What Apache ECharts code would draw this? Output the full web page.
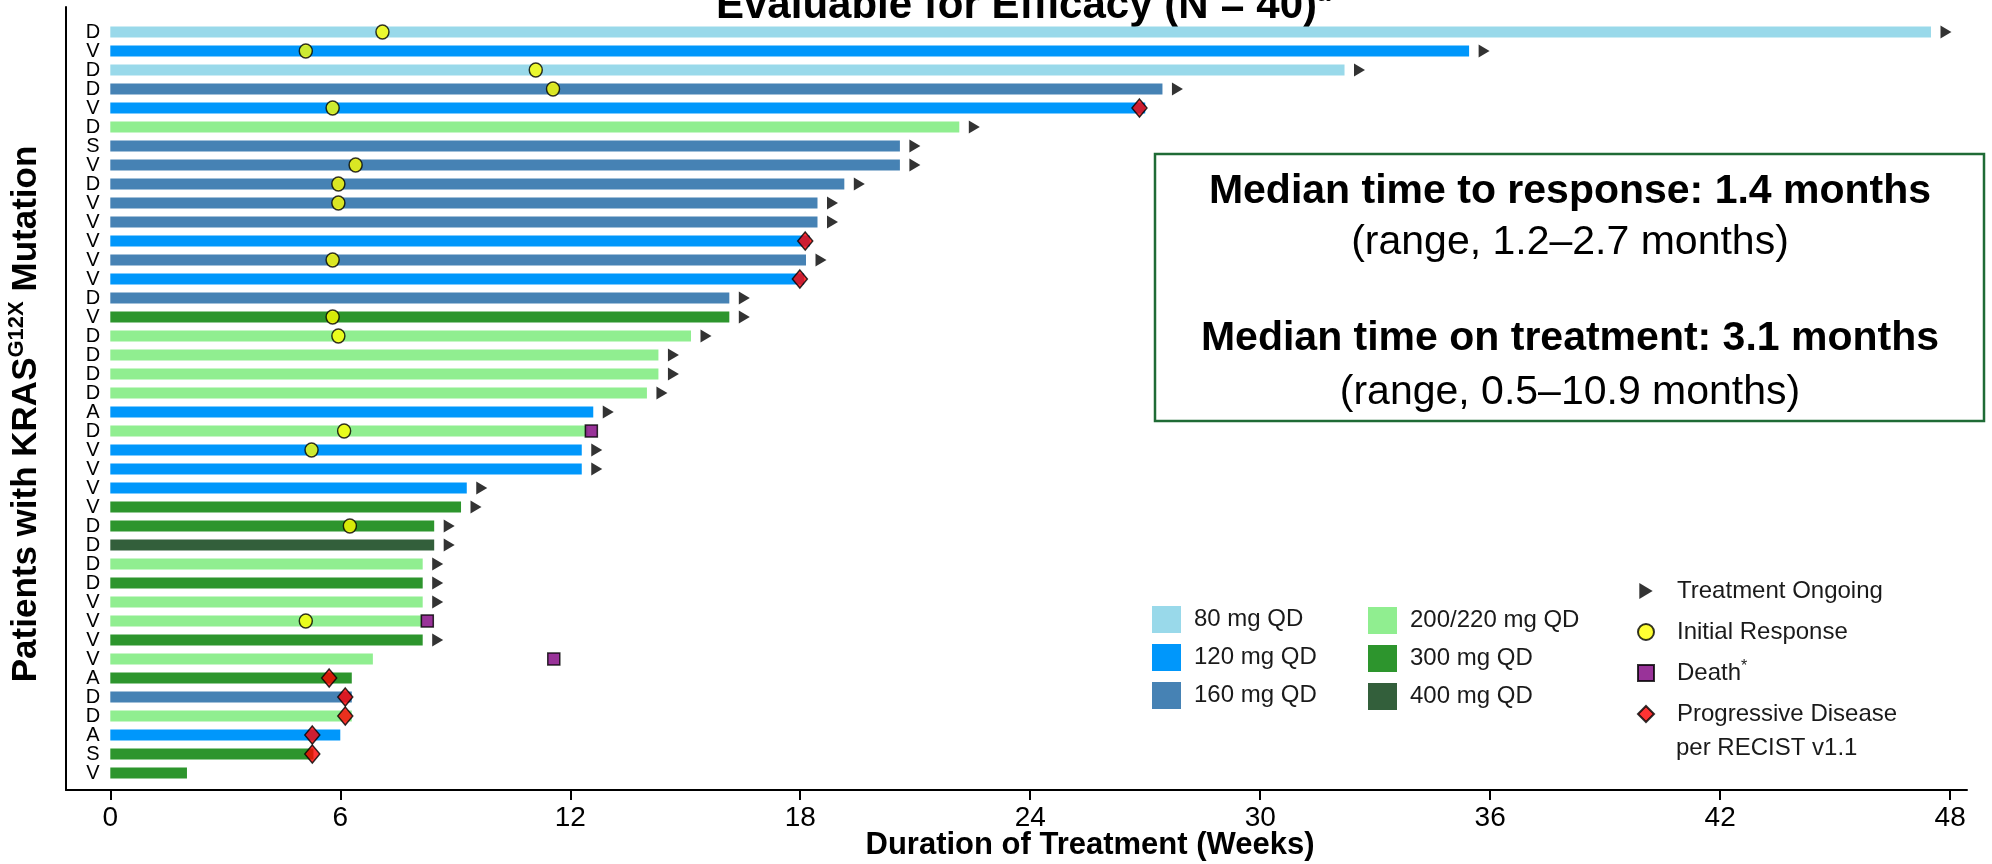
<!DOCTYPE html>
<html>
<head>
<meta charset="utf-8">
<style>
    html, body { margin: 0; padding: 0; background: #fff; }
    #main { width: 1992px; height: 864px; }
</style>
<script src="https://cdn.jsdelivr.net/npm/echarts@6/dist/echarts.min.js"></script>
</head>
<body>
<div id="main"></div>
<script>
// one entry per patient, top row first
let mutations = ['D', 'V', 'D', 'D', 'V', 'D', 'S', 'V', 'D', 'V', 'V', 'V', 'V', 'V', 'D', 'V', 'D', 'D', 'D', 'D',
    'A', 'D', 'V', 'V', 'V', 'V', 'D', 'D', 'D', 'D', 'V', 'V', 'V', 'V', 'A', 'D', 'D', 'A', 'S', 'V']
let doses = ['80', '120', '80', '160', '120', '200/220', '160', '160', '160', '160', '160', '120', '160', '120', '160', '300',
    '200/220', '200/220', '200/220', '200/220', '120', '200/220', '120', '120', '120', '300', '300', '400', '200/220', '300',
    '200/220', '200/220', '300', '200/220', '300', '160', '200/220', '120', '300', '300']
let weeks = [47.5, 35.45, 32.2, 27.45, 27.0, 22.15, 20.6, 20.6, 19.15, 18.45, 18.45, 18.25, 18.15, 18.1, 16.15, 16.15,
    15.15, 14.3, 14.3, 14.0, 12.6, 12.45, 12.3, 12.3, 9.3, 9.15, 8.45, 8.45, 8.15, 8.15,
    8.15, 8.15, 8.15, 6.85, 6.3, 6.3, 6.3, 6.0, 5.3, 2.0]
let ongoing = [1, 1, 1, 1, 0, 1, 1, 1, 1, 1, 1, 0, 1, 0, 1, 1, 1, 1, 1, 1,
    1, 0, 1, 1, 1, 1, 1, 1, 1, 1, 1, 0, 1, 0, 0, 0, 0, 0, 0, 0]

// [row, week]
let responses = [[0, 7.1], [1, 5.1], [2, 11.1], [3, 11.55], [4, 5.8], [7, 6.4], [8, 5.95], [9, 5.95], [12, 5.8],
    [15, 5.8], [16, 5.95], [21, 6.1], [22, 5.25], [26, 6.25], [31, 5.1]]
let deaths = [[21, 12.55], [31, 8.27], [33, 11.57]]
let progressions = [[4, 26.85], [11, 18.13], [13, 17.99], [34, 5.71], [35, 6.13], [36, 6.13], [37, 5.27], [38, 5.27]]

let doseLevels = ['80', '120', '160', '200/220', '300', '400']
let doseColors = ['#99d9ea', '#0097fb', '#4682b4', '#90ee90', '#2d952d', '#335f3b']
let weekTicks = [0, 6, 12, 18, 24, 30, 36, 42, 48]

let font = '"Liberation Sans", Arial, sans-serif'
let myChart = echarts.init(document.getElementById('main'))

let barSeries = doseLevels.map(function (level, k) {
    let data = []
    for (let i = 0; i < doses.length; i++) {
        if (doses[i] === level) {
            data.push([weeks[i], i])
        }
    }
    return {
        name: level + ' mg QD',
        type: 'custom',
        itemStyle: {color: doseColors[k]},
        encode: {x: 0, y: 1},
        renderItem: function (params, api) {
            let start = api.coord([0, api.value(1)])
            let end = api.coord([api.value(0), api.value(1)])
            return {
                type: 'rect',
                shape: {x: start[0], y: start[1] - 5.5, width: end[0] - start[0], height: 11},
                style: {fill: doseColors[k]}
            }
        },
        data: data,
        z: 1
    }
})

let ongoingData = []
for (let i = 0; i < weeks.length; i++) {
    if (ongoing[i]) {
        ongoingData.push([weeks[i], i])
    }
}
let swap = function (p) {
    return [p[1], p[0]]
}
let markerBorder = {borderColor: '#000', borderWidth: 1.5}

// row letters go on two stacked axes (even / odd rows) so none get dropped as overlapping
let rowAxis = function (parity, showLine) {
    let rows = []
    for (let i = parity; i < mutations.length; i += 2) {
        rows.push(i)
    }
    return {
        type: 'value',
        position: 'left',
        offset: 0,
        inverse: true,
        min: -1.316,
        max: 39.895,
        axisLine: {show: showLine, onZero: false, lineStyle: {color: '#000', width: 2}},
        axisTick: {show: false},
        splitLine: {show: false},
        axisLabel: {
            inside: true,
            align: 'center',
            margin: 27,
            showMinLabel: true,
            showMaxLabel: true,
            customValues: rows,
            formatter: function (v) {
                return mutations[v]
            },
            fontFamily: font,
            fontSize: 20,
            color: '#000'
        }
    }
}

let legendText = {
    fontFamily: font,
    fontSize: 24,
    color: '#1a1a1a',
    rich: {
        n: {fontFamily: font, fontSize: 24, color: '#1a1a1a', lineHeight: 28},
        s: {fontFamily: font, fontSize: 16, color: '#1a1a1a', lineHeight: 16, verticalAlign: 'top'}
    }
}

let option = {
    animation: false,
    backgroundColor: '#fff',
    grid: {left: 66, right: 25, top: 7, bottom: 74, containLabel: false},
    xAxis: {
        type: 'value',
        position: 'bottom',
        min: -1.156,
        max: 48.44,
        axisLine: {onZero: false, lineStyle: {color: '#000', width: 2}},
        axisTick: {customValues: weekTicks, length: 10, lineStyle: {color: '#000', width: 2}},
        axisLabel: {customValues: weekTicks, fontFamily: font, fontSize: 28, color: '#000', margin: 14},
        splitLine: {show: false}
    },
    yAxis: [rowAxis(0, true), rowAxis(1, false)],
    legend: [
        {
            data: ['80 mg QD', '120 mg QD', '160 mg QD'],
            orient: 'vertical', left: 1152, top: 606, padding: 0,
            icon: 'rect', itemWidth: 29, itemHeight: 27, itemGap: 11,
            selectedMode: false,
            textStyle: Object.assign({}, legendText, {lineHeight: 27, padding: [0, 0, 0, 8]})
        },
        {
            data: ['200/220 mg QD', '300 mg QD', '400 mg QD'],
            orient: 'vertical', left: 1368, top: 607, padding: 0,
            icon: 'rect', itemWidth: 29, itemHeight: 27, itemGap: 11,
            selectedMode: false,
            textStyle: Object.assign({}, legendText, {lineHeight: 27, padding: [0, 0, 0, 8]})
        },
        {
            data: ['Treatment Ongoing', 'Initial Response', 'Death', 'Progressive Disease'],
            orient: 'vertical', left: 1637, top: 577, padding: 0,
            itemWidth: 16, itemHeight: 16, itemGap: 13,
            selectedMode: false,
            formatter: function (name) {
                return name === 'Death' ? '{n|Death}{s|*}' : name
            },
            textStyle: Object.assign({}, legendText, {lineHeight: 28, padding: [0, 0, 0, 18]})
        }
    ],
    series: barSeries.concat([
        {
            name: 'Treatment Ongoing',
            type: 'scatter',
            symbol: 'path://M0,0L10,6L0,12Z',
            symbolSize: [11, 13],
            symbolOffset: [15, 0],
            itemStyle: {color: '#000'},
            data: ongoingData,
            z: 3
        },
        {
            name: 'Initial Response',
            type: 'scatter',
            symbol: 'circle',
            symbolSize: [13, 14],
            itemStyle: Object.assign({color: '#ffff00'}, markerBorder),
            data: responses.map(swap),
            z: 4
        },
        {
            name: 'Death',
            type: 'scatter',
            symbol: 'rect',
            symbolSize: 12,
            itemStyle: Object.assign({color: '#800080'}, markerBorder),
            data: deaths.map(swap),
            z: 4
        },
        {
            name: 'Progressive Disease',
            type: 'scatter',
            symbol: 'diamond',
            symbolSize: [15, 18],
            itemStyle: Object.assign({color: '#ff0000'}, markerBorder),
            data: progressions.map(swap),
            z: 5
        }
    ]),
    graphic: [
        {
            type: 'text', x: 716, y: 6,
            style: {
                text: '{t|Evaluable for Efficacy (N = 40)}{s|a}',
                verticalAlign: 'middle',
                rich: {
                    t: {fontFamily: font, fontSize: 42, fontWeight: 'bold', color: '#000', lineHeight: 48},
                    s: {fontFamily: font, fontSize: 24, fontWeight: 'bold', color: '#000', lineHeight: 24, verticalAlign: 'top'}
                }
            }
        },
        {
            type: 'text', x: 26, y: 414, rotation: Math.PI / 2,
            style: {
                text: '{b|Patients with KRAS}{s|G12X}{b| Mutation}',
                align: 'center',
                verticalAlign: 'middle',
                rich: {
                    b: {fontFamily: font, fontSize: 35, fontWeight: 'bold', color: '#000', lineHeight: 40},
                    s: {fontFamily: font, fontSize: 22, fontWeight: 'bold', color: '#000', lineHeight: 22, verticalAlign: 'top'}
                }
            }
        },
        {
            type: 'text', x: 1090, y: 845,
            style: {
                text: 'Duration of Treatment (Weeks)',
                align: 'center', verticalAlign: 'middle',
                fontFamily: font, fontSize: 31, fontWeight: 'bold', fill: '#000'
            }
        },
        {
            type: 'rect',
            shape: {x: 1155, y: 154, width: 829, height: 267},
            style: {fill: 'none', stroke: '#1f6b35', lineWidth: 2.5}
        },
        {
            type: 'text', x: 1570, y: 192,
            style: {text: 'Median time to response: 1.4 months', align: 'center', verticalAlign: 'middle',
                fontFamily: font, fontSize: 41, fontWeight: 'bold', fill: '#000'}
        },
        {
            type: 'text', x: 1570, y: 243,
            style: {text: '(range, 1.2–2.7 months)', align: 'center', verticalAlign: 'middle',
                fontFamily: font, fontSize: 41, fill: '#000'}
        },
        {
            type: 'text', x: 1570, y: 339,
            style: {text: 'Median time on treatment: 3.1 months', align: 'center', verticalAlign: 'middle',
                fontFamily: font, fontSize: 41, fontWeight: 'bold', fill: '#000'}
        },
        {
            type: 'text', x: 1570, y: 393,
            style: {text: '(range, 0.5–10.9 months)', align: 'center', verticalAlign: 'middle',
                fontFamily: font, fontSize: 41, fill: '#000'}
        },
        {
            type: 'text', x: 1676, y: 748,
            style: {text: 'per RECIST v1.1', verticalAlign: 'middle',
                fontFamily: font, fontSize: 24, fill: '#1a1a1a'}
        }
    ]
}

myChart.setOption(option)
</script>
</body>
</html>
